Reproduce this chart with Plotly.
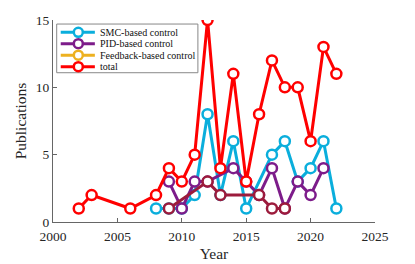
import plotly.graph_objects as go

smc_years = [2008, 2009, 2010, 2011, 2012, 2013, 2014, 2015, 2017, 2018, 2019, 2020, 2021, 2022]
smc_vals = [1, 1, 1, 2, 8, 2, 6, 1, 5, 6, 3, 4, 6, 1]

pid_years = [2009, 2010, 2011, 2012, 2014, 2015, 2016, 2017, 2018, 2019, 2020, 2021]
pid_vals = [3, 1, 3, 3, 4, 3, 2, 4, 1, 3, 2, 4]

fb_years = [2009, 2012, 2013, 2016, 2017, 2018]
fb_vals = [1, 3, 2, 2, 1, 1]

total_years = [2002, 2003, 2006, 2008, 2009, 2010, 2011, 2012, 2013, 2014, 2015,
               2016, 2017, 2018, 2019, 2020, 2021, 2022]
total_vals = [1, 2, 1, 2, 4, 3, 5, 15, 4, 11, 3, 8, 12, 10, 10, 6, 13, 11]

x_ticks = [2000, 2005, 2010, 2015, 2020, 2025]
y_ticks = [0, 5, 10, 15]

legend_names = ["SMC-based control", "PID-based control", "Feedback-based control", "total"]
legend_colors = ["#0AAEDC", "#7D1C8A", "#EDB120", "#FF0000"]

FONT = "Liberation Serif"


def trace(x, y, name, color):
    return go.Scatter(
        x=x, y=y, name=name, mode="lines+markers",
        line=dict(color=color, width=3),
        marker=dict(symbol="circle", size=10, color="white",
                    line=dict(color=color, width=2.5)),
        showlegend=False,
    )


fig = go.Figure()
fig.add_trace(trace(smc_years, smc_vals, legend_names[0], legend_colors[0]))
fig.add_trace(trace(pid_years, pid_vals, legend_names[1], legend_colors[1]))
fig.add_trace(trace(fb_years, fb_vals, legend_names[2], "#9C1B3C"))
fig.add_trace(trace(total_years, total_vals, legend_names[3], legend_colors[3]))

axis_common = dict(
    showgrid=False, zeroline=False, showline=True, linecolor="#666666", linewidth=1,
    ticks="inside", ticklen=4, tickcolor="#666666",
    tickfont=dict(family=FONT, size=13.5, color="#262626"),
    mirror=False, automargin=False,
)

# compact legend box (paper coordinates of the plot area)
lx0, lx1, ly0, ly1 = 0.0115, 0.450, 0.739, 0.980
seg_x0, seg_x1, mark_x, text_x = 0.024, 0.130, 0.0786, 0.140
rows = [0.939, 0.883, 0.826, 0.769]

shapes = [dict(type="rect", xref="paper", yref="paper", x0=lx0, x1=lx1, y0=ly0, y1=ly1,
               line=dict(color="#888888", width=1), fillcolor="white", layer="above")]
annotations = []
for name, color, ry in zip(legend_names, legend_colors, rows):
    shapes.append(dict(type="line", xref="paper", yref="paper", x0=seg_x0, x1=seg_x1,
                       y0=ry, y1=ry, line=dict(color=color, width=3), layer="above"))
    shapes.append(dict(type="circle", xref="paper", yref="paper", xsizemode="pixel",
                       ysizemode="pixel", xanchor=mark_x, yanchor=ry,
                       x0=-4.5, x1=4.5, y0=-4.5, y1=4.5,
                       line=dict(color=color, width=2.5), fillcolor="white", layer="above"))
    annotations.append(dict(xref="paper", yref="paper", x=text_x, y=ry, text=name,
                            showarrow=False, xanchor="left", yanchor="middle",
                            font=dict(family=FONT, size=10, color="#111111")))

fig.update_layout(
    width=407, height=256,
    margin=dict(l=45, r=40, t=12, b=42),
    plot_bgcolor="white", paper_bgcolor="white",
    font=dict(family=FONT, color="#262626"),
    showlegend=False,
    xaxis=dict(range=[2000, 2025], tickvals=x_ticks, ticklabelstandoff=2,
               title=dict(text="Year", font=dict(family=FONT, size=15.5), standoff=4),
               **axis_common),
    yaxis=dict(range=[0, 15], tickvals=y_ticks,
               title=dict(text="Publications", font=dict(family=FONT, size=15.5), standoff=5),
               **axis_common),
    shapes=shapes,
    annotations=annotations,
)

fig.write_html("out.html")
